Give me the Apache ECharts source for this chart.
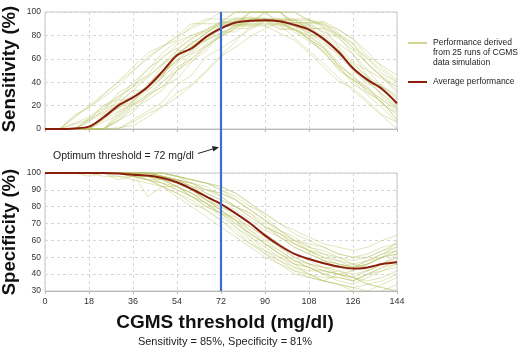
<!DOCTYPE html>
<html>
<head>
<meta charset="utf-8">
<script src="https://cdn.jsdelivr.net/npm/echarts@6/dist/echarts.min.js"></script>
<style>
  html, body { margin: 0; padding: 0; background: #fff; }
  #main { width: 524px; height: 359px; }
</style>
</head>
<body>
<div id="main"></div>
<script>
// thresholds (mg/dl), one point every 6
let thresholds = [0,6,12,18,24,30,36,42,48,54,60,66,72,78,84,90,96,102,108,114,120,126,132,138,144];
let xTicks = [0,18,36,54,72,90,108,126,144];
let optimum = 72;

// sensitivity (%), 25 simulation runs
let sensRuns = [
  [0,0,10,19,27,37,49,62,70,79,86,92,100,100,100,100,100,100,93,89,85,77,66,52,42],
  [0,0,0,0,0,1,3,10,19,27,37,49,62,70,79,86,91,85,77,66,52,42,34,22,12],
  [0,0,4,8,20,28,36,52,60,72,80,84,92,92,96,92,92,88,84,76,68,52,40,36,20],
  [0,0,0,0,9,18,27,36,45,64,73,82,91,91,100,100,100,91,91,91,82,73,55,45,36],
  [0,0,0,0,0,8,17,25,33,50,58,67,83,83,92,92,92,83,75,67,50,42,33,25,17],
  [0,0,12,18,29,41,53,65,71,76,88,94,94,94,94,94,88,88,76,65,53,41,29,18,6],
  [0,0,0,7,14,21,29,36,50,57,71,79,86,93,93,93,93,93,86,86,79,64,50,43,36],
  [0,0,0,0,0,10,20,30,40,50,60,70,80,90,90,90,90,90,80,80,70,50,40,30,20],
  [0,0,0,8,15,31,38,46,62,69,77,85,92,100,100,100,100,100,92,92,85,77,62,54,46],
  [0,0,0,0,12,18,24,35,47,59,71,76,82,88,88,88,82,76,65,53,41,35,24,12,6],
  [0,0,0,0,0,0,6,13,19,31,38,50,63,75,88,94,94,94,94,88,81,69,56,44,31],
  [0,0,5,10,20,25,40,50,65,75,80,85,90,95,95,95,90,85,80,70,55,45,35,25,15],
  [0,0,0,0,11,22,33,33,44,67,67,78,89,89,89,100,89,89,89,78,67,56,44,33,22],
  [0,0,0,0,0,14,21,29,36,50,64,71,79,86,93,93,93,93,86,86,71,57,50,36,29],
  [0,0,0,9,18,27,36,45,55,64,73,82,91,100,100,100,91,91,82,73,64,55,45,27,18],
  [0,0,0,0,8,15,23,38,46,62,69,77,85,92,92,92,92,85,77,69,54,38,31,23,8],
  [0,0,0,0,0,7,20,27,40,53,60,73,80,87,93,93,93,93,93,87,80,73,60,47,40],
  [0,0,0,6,17,22,33,44,56,67,78,83,89,94,94,94,94,94,89,83,78,67,56,44,33],
  [0,0,0,0,13,25,25,38,50,63,75,75,88,88,100,100,100,88,88,75,63,50,38,38,25],
  [0,0,0,0,0,7,14,29,36,43,57,71,79,86,86,93,86,86,79,71,57,43,36,21,14],
  [0,0,10,20,30,40,50,60,70,80,90,90,90,90,100,100,100,90,90,90,80,70,60,50,40],
  [0,0,0,0,6,12,24,35,47,59,65,76,82,88,94,94,94,88,82,76,65,53,41,29,18],
  [0,0,0,0,0,0,8,15,23,38,46,62,69,77,85,92,85,85,77,69,54,46,31,23,8],
  [0,0,0,0,9,18,27,36,55,64,73,82,91,91,91,100,100,91,91,82,73,64,45,36,27],
  [0,0,0,0,0,11,22,33,44,56,67,78,89,89,89,89,89,78,67,56,44,33,22,11,0]
];
let sensAvg = [0,0,0.5,2,10,20,27,36,49,63,69,79,86,91,92.5,93,92,89,85,77,66,52,42,34,22];

// specificity (%), 25 simulation runs
let specRuns = [
  [100,100,100,100,100,100,98,96,92,86,80,74,68,62,56,50,46,42,40,36,34,32,30,34,38],
  [100,100,100,100,100,100,100,100,100,98,96,94,92,88,82,76,70,66,62,58,56,54,56,60,63],
  [100,100,100,100,100,98,96,94,92,88,82,78,72,66,58,54,48,42,38,36,34,32,34,36,40],
  [100,100,100,100,100,100,100,100,98,96,92,90,86,80,76,68,64,58,54,50,48,46,42,46,50],
  [100,100,100,100,98,98,98,96,96,92,86,80,76,72,64,58,52,46,44,40,42,38,34,32,30],
  [100,100,100,100,100,100,100,100,100,98,96,94,90,86,80,76,70,64,60,56,52,50,52,56,58],
  [100,100,100,100,100,100,98,98,94,90,86,82,74,68,62,56,50,46,40,36,40,42,46,50,52],
  [100,100,100,100,100,100,100,100,98,96,94,88,84,80,76,70,62,56,52,48,44,46,48,52,54],
  [100,100,100,98,100,100,100,98,96,94,90,84,78,70,64,58,54,48,44,40,36,34,38,42,46],
  [100,100,100,100,100,100,100,100,100,98,96,94,92,88,82,74,66,60,56,54,50,46,44,46,48],
  [100,100,100,100,100,100,100,100,96,92,88,82,78,72,62,54,50,44,42,42,40,36,40,44,48],
  [100,100,100,100,100,100,98,98,98,96,94,90,88,84,78,72,66,60,54,48,46,44,48,52,56],
  [100,100,100,100,100,100,100,98,96,92,86,82,76,68,60,52,46,40,38,36,34,30,28,30,34],
  [100,100,100,100,100,100,100,100,98,96,92,88,84,80,74,68,64,58,54,50,46,44,46,50,54],
  [100,100,100,100,100,100,100,96,94,90,86,80,76,74,68,62,56,50,46,42,40,38,42,46,50],
  [100,100,100,100,100,100,100,100,100,98,96,94,90,84,78,72,64,60,58,56,52,50,50,54,58],
  [100,100,100,100,100,96,98,96,94,92,88,84,80,74,66,58,52,46,44,42,40,38,36,38,42],
  [100,100,100,100,100,100,100,100,98,94,90,86,82,78,72,66,62,56,52,48,46,44,48,50,52],
  [100,100,100,100,100,100,100,100,98,96,92,86,78,72,66,60,54,48,44,40,38,36,40,42,44],
  [100,100,100,100,100,100,98,96,92,88,84,78,72,64,58,52,48,44,40,38,38,36,40,44,46],
  [100,100,100,100,100,100,100,100,100,98,94,90,88,84,78,72,66,62,56,52,50,48,50,54,56],
  [100,100,100,100,100,100,100,98,96,94,90,84,78,72,68,62,56,50,46,44,40,38,34,32,30],
  [100,100,100,100,100,100,100,100,98,96,94,92,86,80,74,68,62,58,54,52,48,44,46,50,60],
  [100,100,100,100,100,100,100,98,98,96,90,84,80,76,70,64,58,52,48,44,42,40,42,46,52],
  [100,100,100,100,100,100,100,86,92,92,88,82,76,70,64,58,52,48,46,44,44,42,46,50,54]
];
let specAvg = [100,100,100,100,100,99.7,99,98.5,97,94.5,90.5,86,81.5,76,70,63,57,52,49,46.5,44.5,43.3,44,46,47];

let sensTicks = [0,20,40,60,80,100];
let specTicks = [30,40,50,60,70,80,90,100];

let FONT = 'Liberation Sans, Arial, Helvetica, sans-serif';
let RUN_COLOR = 'rgba(186,196,100,0.55)';
let AVG_COLOR = '#8b1d0d';
let BLUE = '#3a6fd3';

function pairs(values){
    return thresholds.map((x, i) => [x, values[i]]);
}

function xAxisFor(grid, showLabels){
    return {
        type: 'value', gridIndex: grid,
        min: 0, max: 144, interval: 18,
        axisLine: {show: true, lineStyle: {color: '#b8b8b8'}},
        axisTick: {show: true, length: 3, lineStyle: {color: '#b8b8b8'}},
        axisLabel: {show: showLabels, color: '#333', fontSize: 9, margin: 6, fontFamily: FONT},
        splitLine: {show: true, lineStyle: {color: '#d6d6d6', type: [3, 3]}}
    };
}

function yAxisFor(grid, ticks){
    return {
        type: 'value', gridIndex: grid,
        min: ticks[0], max: ticks[ticks.length-1], interval: ticks[1]-ticks[0],
        axisLine: {show: false},
        axisTick: {show: false},
        axisLabel: {color: '#333', fontSize: 8.5, margin: 4, fontFamily: FONT},
        splitLine: {show: true, lineStyle: {color: '#d6d6d6', type: [3, 3]}}
    };
}

let series = [];
sensRuns.forEach((run, k) => {
    series.push({
        type: 'line', name: 'run' + k, xAxisIndex: 0, yAxisIndex: 0,
        data: pairs(run), showSymbol: false, silent: true, z: 2,
        lineStyle: {color: RUN_COLOR, width: 0.8}
    });
});
specRuns.forEach((run, k) => {
    series.push({
        type: 'line', name: 'srun' + k, xAxisIndex: 1, yAxisIndex: 1,
        data: pairs(run), showSymbol: false, silent: true, z: 2,
        lineStyle: {color: RUN_COLOR, width: 0.8}
    });
});
series.push({
    type: 'line', name: 'Average performance', xAxisIndex: 0, yAxisIndex: 0,
    data: pairs(sensAvg), showSymbol: false, smooth: 0.3, z: 4,
    lineStyle: {color: AVG_COLOR, width: 2}
});
series.push({
    type: 'line', name: 'Average specificity', xAxisIndex: 1, yAxisIndex: 1,
    data: pairs(specAvg), showSymbol: false, smooth: 0.3, z: 4,
    lineStyle: {color: AVG_COLOR, width: 2}
});

let option = {
    animation: false,
    backgroundColor: '#fff',
    textStyle: {fontFamily: FONT},
    grid: [
        {left: 45, top: 12, width: 352, height: 117, show: true, borderColor: '#c8c8c8', borderWidth: 1},
        {left: 45, top: 173, width: 352, height: 118, show: true, borderColor: '#c8c8c8', borderWidth: 1}
    ],
    xAxis: [xAxisFor(0, false), xAxisFor(1, true)],
    yAxis: [yAxisFor(0, sensTicks), yAxisFor(1, specTicks)],
    series: series
};

let chart = echarts.init(document.getElementById('main'));
chart.setOption(option);

// optimum threshold line spans both panels
let lineTop = chart.convertToPixel({gridIndex: 0}, [optimum, sensTicks[sensTicks.length-1]]);
let lineBottom = chart.convertToPixel({gridIndex: 1}, [optimum, specTicks[0]]);
let lx = Math.round(lineTop[0]);

chart.setOption({
    graphic: [
        {type: 'line', z: 10, shape: {x1: lx, y1: lineTop[1], x2: lx, y2: lineBottom[1]},
         style: {stroke: BLUE, lineWidth: 2.2}},
        {type: 'text', z: 10, x: 10, y: 69, rotation: Math.PI/2,
         style: {text: 'Sensitivity (%)', font: 'bold 18.5px ' + FONT, fill: '#111', align: 'center', verticalAlign: 'middle'}},
        {type: 'text', z: 10, x: 10, y: 232, rotation: Math.PI/2,
         style: {text: 'Specificity (%)', font: 'bold 18.5px ' + FONT, fill: '#111', align: 'center', verticalAlign: 'middle'}},
        {type: 'text', z: 10, x: 225, y: 323,
         style: {text: 'CGMS threshold (mg/dl)', font: 'bold 19px ' + FONT, fill: '#111', align: 'center', verticalAlign: 'middle'}},
        {type: 'text', z: 10, x: 225, y: 342,
         style: {text: 'Sensitivity = 85%, Specificity = 81%', font: '11px ' + FONT, fill: '#222', align: 'center', verticalAlign: 'middle'}},
        {type: 'text', z: 10, x: 53, y: 156,
         style: {text: 'Optimum threshold = 72 mg/dl', font: '10.5px ' + FONT, fill: '#222', align: 'left', verticalAlign: 'middle'}},
        {type: 'line', z: 10, shape: {x1: 198, y1: 153.5, x2: lx - 7, y2: 148.6},
         style: {stroke: '#222', lineWidth: 1}},
        {type: 'polygon', z: 10, shape: {points: [[lx - 2, 147.3], [lx - 9, 146], [lx - 7.6, 151.4]]},
         style: {fill: '#222'}},
        // legend
        {type: 'line', z: 10, shape: {x1: 408, y1: 43, x2: 427, y2: 43},
         style: {stroke: '#b9b94a', lineWidth: 1.2}},
        {type: 'text', z: 10, x: 433, y: 38,
         style: {text: 'Performance derived\nfrom 25 runs of CGMS\ndata simulation', font: '8.5px ' + FONT, lineHeight: 9.8, fill: '#222', align: 'left', verticalAlign: 'top'}},
        {type: 'line', z: 10, shape: {x1: 408, y1: 82, x2: 427, y2: 82},
         style: {stroke: AVG_COLOR, lineWidth: 2}},
        {type: 'text', z: 10, x: 433, y: 82,
         style: {text: 'Average performance', font: '8.5px ' + FONT, fill: '#222', align: 'left', verticalAlign: 'middle'}}
    ]
});
</script>
</body>
</html>
